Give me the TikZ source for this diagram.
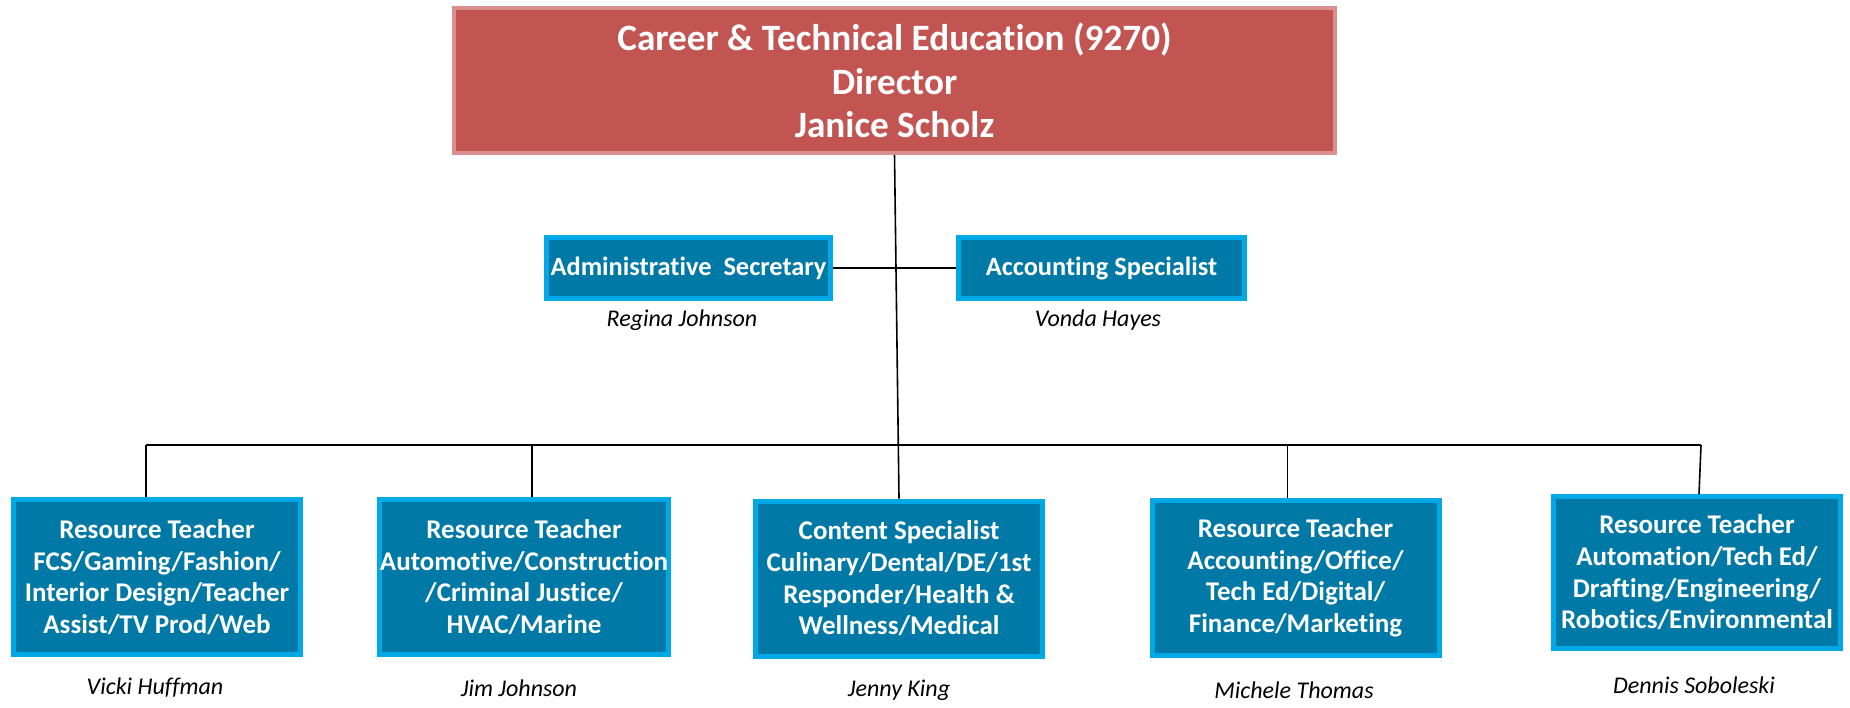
\documentclass[tikz,border=0pt]{standalone}
\usepackage{fontspec}
\setmainfont[Ligatures=NoCommon]{Carlito}
\definecolor{headred}{HTML}{C25452}
\definecolor{headrim}{HTML}{D98F8E}
\definecolor{roleblue}{HTML}{0079A6}
\definecolor{rolerim}{HTML}{00A9E6}
\begin{document}
\begin{tikzpicture}[x=0.5pt,y=-0.5pt,line width=0.8pt,
  head/.style={draw=headrim,fill=headred,line width=2pt,text=white,
    font=\bfseries\fontsize{18.6}{21.8}\selectfont,align=center,
    minimum width=440.5pt,minimum height=72.5pt},
  post/.style={draw=rolerim,fill=roleblue,line width=2.5pt,text=white,
    font=\bfseries\fontsize{13.5}{15.8}\selectfont,align=center,
    minimum width=143.5pt,minimum height=77.5pt,inner sep=0pt},
  desk/.style={post,font=\bfseries\fontsize{13.2}{15}\selectfont,
    minimum width=142pt,minimum height=30.5pt},
  who/.style={font=\itshape\fontsize{12}{14}\selectfont}]
\useasboundingbox (0,0) rectangle (1850,707);
\node[head] (dir) at (894.5,80.5) {Career \& Technical Education (9270)\\Director\\Janice Scholz};
\node[desk] (sec) at (688.5,268) {Administrative\ \ Secretary};
\node[desk,minimum width=143pt] (acc) at (1101.5,268) {Accounting Specialist};
\node[who] (secname) at (682,320) {Regina Johnson};
\node[who] (accname) at (1098,320) {Vonda Hayes};
\node[post] (t1) at (157,577) {Resource Teacher\\FCS/Gaming/Fashion/\\Interior Design/Teacher\\Assist/TV Prod/Web};
\node[post] (t2) at (524,577) {Resource Teacher\\Automotive/Construction\\/Criminal Justice/\\HVAC/Marine};
\node[post] (t3) at (899,578.5) {Content Specialist\\Culinary/Dental/DE/1st\\Responder/Health \&\\Wellness/Medical};
\node[post] (t4) at (1295.5,578) {Resource Teacher\\Accounting/Office/\\Tech Ed/Digital/\\Finance/Marketing};
\node[post,minimum height=76pt] (t5) at (1697,572.5) {Resource Teacher\\Automation/Tech Ed/\\Drafting/Engineering/\\Robotics/Environmental};
\node[who] (n1) at (155,688) {Vicki Huffman};
\node[who] (n2) at (519,688) {Jim Johnson};
\node[who] (n3) at (899,690) {Jenny King};
\node[who] (n4) at (1294,690) {Michele Thomas};
\node[who] (n5) at (1694,685) {Dennis Soboleski};
\coordinate (busL) at (146,445);
\coordinate (busR) at (1701,445);
\draw (dir.south) -- (t3.north);
\draw (sec) -- (acc);
\draw (busL) -- (busR);
\draw ([xshift=-5.5pt]t1.north) -- (busL);
\draw ([xshift=4pt]t2.north) -- ([xshift=4pt]t2.north |- busL);
\draw ([xshift=-4pt]t4.north) -- ([xshift=-4pt]t4.north |- busL);
\draw ([xshift=1pt]t5.north) -- (busR);
\end{tikzpicture}
\end{document}
